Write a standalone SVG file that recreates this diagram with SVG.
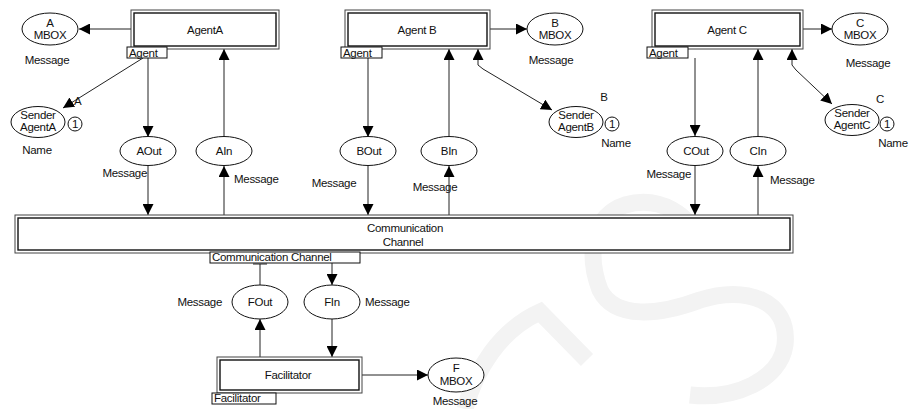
<svg xmlns="http://www.w3.org/2000/svg" width="909" height="409" viewBox="0 0 909 409">
<style>
text{font-family:"Liberation Sans",Arial,sans-serif;font-size:11.5px;fill:#111;letter-spacing:-0.3px}
.c{text-anchor:middle}.e{text-anchor:end}
.ob{fill:#fff;stroke:#444;stroke-width:1}
.ib{fill:#fff;stroke:#111;stroke-width:1.4}
.pl{fill:#fff;stroke:#111;stroke-width:1}
.tag{fill:#fff;stroke:#111;stroke-width:1}
.cn{fill:none;stroke:#222;stroke-width:1}
.wm{fill:none;stroke:#f3f3f3;stroke-width:17;stroke-linecap:butt}
</style>
<defs>
<marker id="ah" viewBox="0 0 10 10" refX="10" refY="5" markerWidth="11" markerHeight="11" markerUnits="userSpaceOnUse" orient="auto-start-reverse"><path d="M0,0L10,5L0,10z" fill="#000"/></marker>
</defs>
<rect width="909" height="409" fill="#fff"/>
<g id="watermark">
<path class="wm" d="M700,243 C690,215 660,195 625,205 C595,215 585,250 600,290 C615,320 660,315 700,300 C745,285 790,300 785,345 C780,380 735,400 690,395"/>
<path class="wm" d="M587,360 L540,312 C500,330 475,370 465,409"/>
</g>
<g id="connectors">
<line class="cn" x1="131" y1="29" x2="79" y2="29" marker-end="url(#ah)"/>
<line class="cn" x1="143" y1="58" x2="63" y2="108" marker-end="url(#ah)"/>
<line class="cn" x1="148" y1="58" x2="148" y2="137" marker-end="url(#ah)"/>
<line class="cn" x1="224" y1="137" x2="224" y2="49" marker-end="url(#ah)"/>
<line class="cn" x1="148" y1="166" x2="148" y2="215" marker-end="url(#ah)"/>
<line class="cn" x1="224" y1="215" x2="224" y2="166" marker-end="url(#ah)"/>
<line class="cn" x1="490" y1="29" x2="527" y2="29" marker-end="url(#ah)"/>
<line class="cn" x1="368" y1="58" x2="368" y2="137" marker-end="url(#ah)"/>
<line class="cn" x1="449" y1="137" x2="449" y2="49" marker-end="url(#ah)"/>
<path class="cn" d="M478,49 L478,65 L483,69 L552,110" marker-start="url(#ah)" marker-end="url(#ah)"/>
<line class="cn" x1="368" y1="166" x2="368" y2="215" marker-end="url(#ah)"/>
<line class="cn" x1="449" y1="215" x2="449" y2="166" marker-end="url(#ah)"/>
<line class="cn" x1="803" y1="29" x2="832" y2="29" marker-end="url(#ah)"/>
<line class="cn" x1="695" y1="58" x2="695" y2="136" marker-end="url(#ah)"/>
<line class="cn" x1="758" y1="136" x2="758" y2="49" marker-end="url(#ah)"/>
<path class="cn" d="M792,49 L792,65 L796,70 L832,104" marker-start="url(#ah)" marker-end="url(#ah)"/>
<line class="cn" x1="695" y1="166" x2="695" y2="215" marker-end="url(#ah)"/>
<line class="cn" x1="758" y1="215" x2="758" y2="166" marker-end="url(#ah)"/>
<line class="cn" x1="260" y1="285" x2="260" y2="264"/>
<line class="cn" x1="253" y1="264" x2="267" y2="264"/>
<line class="cn" x1="260" y1="357" x2="260" y2="319" marker-end="url(#ah)"/>
<line class="cn" x1="332" y1="263" x2="332" y2="285" marker-end="url(#ah)"/>
<line class="cn" x1="332" y1="319" x2="332" y2="357" marker-end="url(#ah)"/>
<line class="cn" x1="362" y1="375" x2="428" y2="375" marker-end="url(#ah)"/>
</g>
<g id="agentA">
<rect class="ob" x="131" y="10" width="148" height="39"/>
<rect class="ib" x="134" y="13" width="142" height="33"/>
<text class="c" x="205" y="34">AgentA</text>
<rect class="tag" x="127" y="47" width="40" height="11"/>
<text x="129" y="57">Agent</text>
</g>
<g id="agentB">
<rect class="ob" x="345" y="10" width="145" height="39"/>
<rect class="ib" x="348" y="13" width="139" height="33"/>
<text class="c" x="417" y="34">Agent B</text>
<rect class="tag" x="341" y="47" width="41" height="11"/>
<text x="343" y="57">Agent</text>
</g>
<g id="agentC">
<rect class="ob" x="652" y="10" width="151" height="39"/>
<rect class="ib" x="655" y="13" width="145" height="33"/>
<text class="c" x="727" y="34">Agent C</text>
<rect class="tag" x="647" y="47" width="41" height="11"/>
<text x="649" y="57">Agent</text>
</g>
<g id="mboxA">
<ellipse class="pl" cx="50" cy="29" rx="28" ry="16"/>
<text class="c" x="50" y="27">A</text>
<text class="c" x="50" y="39">MBOX</text>
<text class="c" x="47" y="64">Message</text>
</g>
<g id="mboxB">
<ellipse class="pl" cx="555" cy="29" rx="28" ry="16"/>
<text class="c" x="555" y="27">B</text>
<text class="c" x="555" y="39">MBOX</text>
<text class="c" x="551" y="64">Message</text>
</g>
<g id="mboxC">
<ellipse class="pl" cx="860" cy="29" rx="28" ry="16"/>
<text class="c" x="860" y="27">C</text>
<text class="c" x="860" y="39">MBOX</text>
<text class="c" x="868" y="67">Message</text>
</g>
<g id="senderA">
<ellipse class="pl" cx="38" cy="122" rx="27" ry="15.5"/>
<text class="c" x="38" y="119">Sender</text>
<text class="c" x="38" y="131">AgentA</text>
<circle class="pl" cx="75" cy="124" r="7"/>
<text class="c" x="75" y="128">1</text>
<text x="74" y="105">A</text>
<text class="c" x="37" y="154">Name</text>
</g>
<g id="senderB">
<ellipse class="pl" cx="576" cy="122" rx="27" ry="15.5"/>
<text class="c" x="576" y="119">Sender</text>
<text class="c" x="576" y="131">AgentB</text>
<circle class="pl" cx="612" cy="124" r="7"/>
<text class="c" x="612" y="128">1</text>
<text class="c" x="604" y="101">B</text>
<text class="c" x="616" y="147">Name</text>
</g>
<g id="senderC">
<ellipse class="pl" cx="852" cy="120" rx="27" ry="15.5"/>
<text class="c" x="852" y="117">Sender</text>
<text class="c" x="852" y="129">AgentC</text>
<circle class="pl" cx="887" cy="124" r="7"/>
<text class="c" x="887" y="128">1</text>
<text class="c" x="880" y="103">C</text>
<text class="c" x="893" y="147">Name</text>
</g>
<g id="aout">
<ellipse class="pl" cx="148" cy="151" rx="28" ry="14.5"/>
<text class="c" x="149" y="155">AOut</text>
<text class="e" x="147" y="177">Message</text>
</g>
<g id="ain">
<ellipse class="pl" cx="224" cy="151" rx="28" ry="14.5"/>
<text class="c" x="224" y="155">AIn</text>
<text x="234" y="183">Message</text>
</g>
<g id="bout">
<ellipse class="pl" cx="368" cy="151" rx="28" ry="14.5"/>
<text class="c" x="369" y="155">BOut</text>
<text class="c" x="334" y="187">Message</text>
</g>
<g id="bin">
<ellipse class="pl" cx="449" cy="151" rx="28" ry="14.5"/>
<text class="c" x="449" y="155">BIn</text>
<text class="c" x="435" y="191">Message</text>
</g>
<g id="cout">
<ellipse class="pl" cx="695" cy="151" rx="28" ry="14.5"/>
<text class="c" x="696" y="155">COut</text>
<text class="e" x="691" y="178">Message</text>
</g>
<g id="cin">
<ellipse class="pl" cx="758" cy="151" rx="28" ry="14.5"/>
<text class="c" x="758" y="155">CIn</text>
<text x="770" y="184">Message</text>
</g>
<g id="channel">
<rect class="ob" x="15" y="215" width="778" height="38"/>
<rect class="ib" x="18" y="218" width="772" height="32"/>
<text class="c" x="405" y="232">Communication</text>
<text class="c" x="403" y="246">Channel</text>
<rect class="tag" x="210" y="252" width="150" height="11"/>
<text x="212" y="261">Communication Channel</text>
</g>
<g id="fout">
<ellipse class="pl" cx="260" cy="302" rx="28" ry="17"/>
<text class="c" x="260" y="306">FOut</text>
<text class="e" x="222" y="306">Message</text>
</g>
<g id="fin">
<ellipse class="pl" cx="332" cy="302" rx="28" ry="17"/>
<text class="c" x="332" y="306">FIn</text>
<text x="365" y="306">Message</text>
</g>
<g id="facilitator">
<rect class="ob" x="217" y="357" width="145" height="36"/>
<rect class="ib" x="220" y="360" width="139" height="30"/>
<text class="c" x="288" y="379">Facilitator</text>
<rect class="tag" x="212" y="393" width="64" height="11"/>
<text x="214" y="402">Facilitator</text>
</g>
<g id="mboxF">
<ellipse class="pl" cx="456" cy="375" rx="28" ry="17"/>
<text class="c" x="456" y="372">F</text>
<text class="c" x="456" y="385">MBOX</text>
<text class="c" x="455" y="405">Message</text>
</g>
</svg>
